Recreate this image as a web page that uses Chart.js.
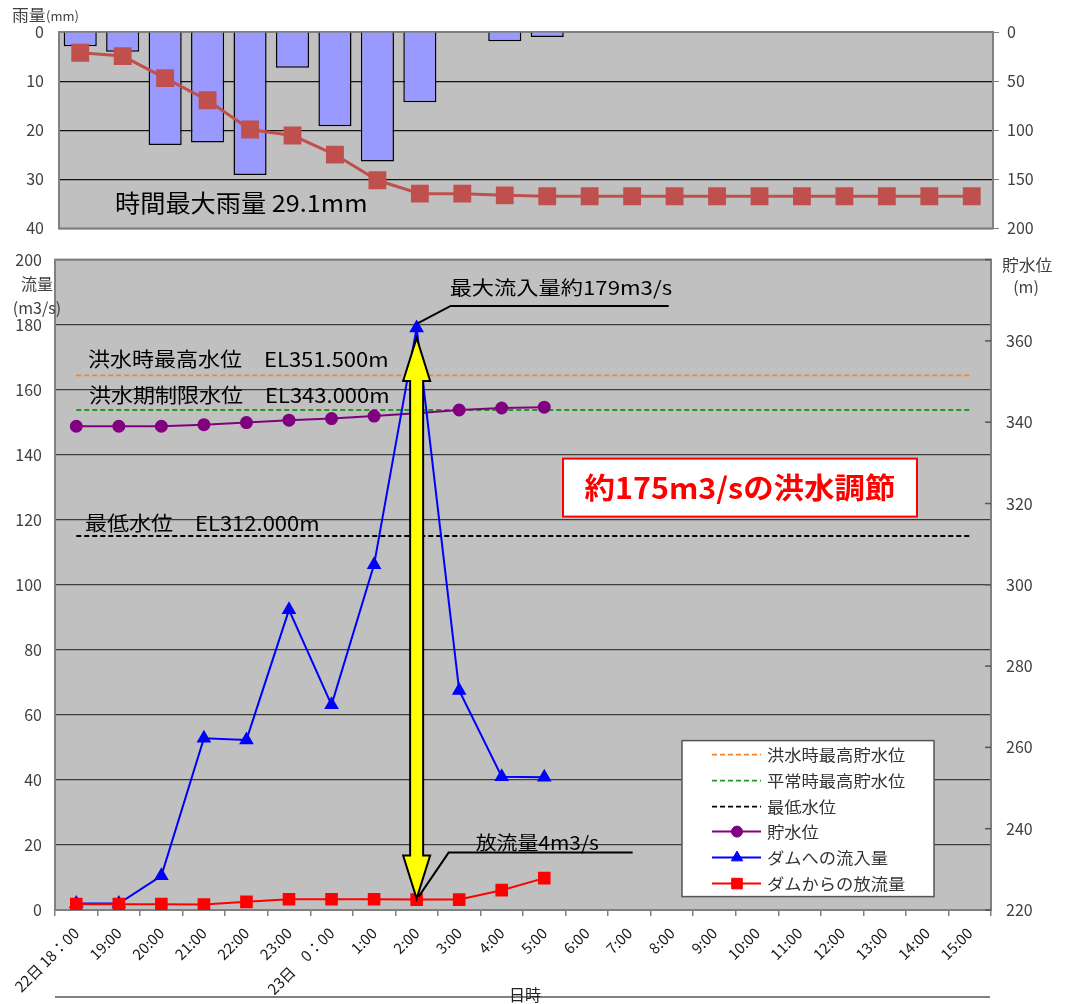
<!DOCTYPE html>
<html>
<head>
<meta charset="utf-8">
<script src="https://cdn.jsdelivr.net/npm/chart.js@4.4.1/dist/chart.umd.min.js"></script>
<style>
  body { margin: 0; background: #fff; }
  #rainBox { position: absolute; left: 0; top: 0; width: 1071px; height: 253px; }
  #flowBox { position: absolute; left: 0; top: 235px; width: 1071px; height: 769px; }
</style>
</head>
<body>
<div id="rainBox"><canvas id="rainChart"></canvas></div>
<div id="flowBox"><canvas id="flowChart"></canvas></div>
<script>
const FONT = '"Noto Sans CJK JP", "Noto Sans", sans-serif';
Chart.defaults.font.family = FONT;
Chart.defaults.animation = false;

// time axis (22 hourly categories)
const hours = ['22日 18：00', '19:00', '20:00', '21:00', '22:00', '23:00', '23日　0：00', '1:00', '2:00',
  '3:00', '4:00', '5:00', '6:00', '7:00', '8:00', '9:00', '10:00', '11:00', '12:00', '13:00', '14:00', '15:00'];

// rainfall (mm) – hourly bars and cumulative line
const hourlyRain = [2.9, 4.0, 23.0, 22.5, 29.1, 7.3, 19.2, 26.4, 14.3, 0, 1.9, 1.0, 0, 0, 0, 0, 0, 0, 0, 0, 0, 0];
const totalRain  = [21.1, 24.5, 47.0, 69.5, 99.3, 105.4, 124.8, 151.0, 164.6, 164.6, 166.3, 167.3,
  167.3, 167.3, 167.3, 167.3, 167.3, 167.3, 167.3, 167.3, 167.3, 167.3];

// flows (m3/s) and reservoir level (m)
const inflow  = [2.0, 2.0, 10.5, 52.8, 52.3, 92.3, 63.1, 106.2, 179.0, 67.5, 41.0, 40.8,
  null, null, null, null, null, null, null, null, null, null];
const outflow = [1.8, 1.8, 1.8, 1.7, 2.5, 3.3, 3.3, 3.3, 3.2, 3.2, 6.1, 9.8,
  null, null, null, null, null, null, null, null, null, null];
const reservoirLevel = [339.0, 339.0, 339.0, 339.4, 339.9, 340.5, 340.9, 341.5, 342.2, 343.0, 343.5, 343.7,
  null, null, null, null, null, null, null, null, null, null];

// reference water levels (m)
const floodMaxLevel = 351.5;
const normalMaxLevel = 343.0;
const lowestLevel = 312.0;

const legendOrder = ['洪水時最高貯水位', '平常時最高貯水位', '最低水位', '貯水位', 'ダムへの流入量', 'ダムからの放流量'];

const AXIS_TXT = '#404040';

// text drawn a little wider than the font, like the original
function wideText(ctx, text, x, y, sx, align) {
  ctx.save();
  ctx.translate(x, y);
  ctx.scale(sx, 1);
  ctx.textAlign = align || 'left';
  ctx.textBaseline = 'middle';
  ctx.fillText(text, 0, 0);
  ctx.restore();
}

function line(ctx, pts, color, width) {
  ctx.beginPath();
  ctx.moveTo(pts[0][0], pts[0][1]);
  for (let i = 1; i < pts.length; i++) ctx.lineTo(pts[i][0], pts[i][1]);
  ctx.strokeStyle = color;
  ctx.lineWidth = width;
  ctx.stroke();
}

function doubleArrow(ctx, x, y1, y2) {
  const sw = 6.5, hw = 13.5, hl = 43;
  ctx.save();
  ctx.beginPath();
  ctx.moveTo(x, y1);
  ctx.lineTo(x + hw, y1 + hl);
  ctx.lineTo(x + sw, y1 + hl);
  ctx.lineTo(x + sw, y2 - hl);
  ctx.lineTo(x + hw, y2 - hl);
  ctx.lineTo(x, y2);
  ctx.lineTo(x - hw, y2 - hl);
  ctx.lineTo(x - sw, y2 - hl);
  ctx.lineTo(x - sw, y1 + hl);
  ctx.lineTo(x - hw, y1 + hl);
  ctx.closePath();
  ctx.fillStyle = '#ffff00';
  ctx.fill();
  ctx.strokeStyle = '#000';
  ctx.lineWidth = 2;
  ctx.stroke();
  ctx.restore();
}

// gray plot background + frame
const plotFrame = {
  id: 'plotFrame',
  beforeDraw(chart) {
    const { ctx, chartArea: a } = chart;
    ctx.save();
    ctx.fillStyle = '#c0c0c0';
    ctx.fillRect(a.left, a.top, a.width, a.height);
    ctx.restore();
  },
  beforeDatasetsDraw(chart) {
    const { ctx, chartArea: a } = chart;
    ctx.save();
    ctx.strokeStyle = '#808080';
    ctx.lineWidth = 2;
    ctx.strokeRect(a.left, a.top, a.width, a.height);
    ctx.restore();
  }
};

// ---------- top: rainfall ----------
const rainDecor = {
  id: 'rainDecor',
  afterDraw(chart) {
    const { ctx, chartArea: a } = chart;
    ctx.save();
    ctx.fillStyle = AXIS_TXT;
    ctx.font = '16px ' + FONT;
    wideText(ctx, '雨量', 12, 15, 1.05);
    ctx.font = '13px ' + FONT;
    wideText(ctx, '(mm)', 46, 16, 1.0);
    ctx.fillStyle = '#000';
    ctx.font = '24px ' + FONT;
    wideText(ctx, '時間最大雨量 29.1mm', a.left + 56, chart.scales.y.getPixelForValue(34.7), 1.05);
    ctx.restore();
  }
};

new Chart(document.getElementById('rainChart'), {
  type: 'bar',
  data: {
    labels: hours,
    datasets: [{
      type: 'line',
      label: '累計雨量',
      data: totalRain,
      yAxisID: 'y2',
      borderColor: '#c0504d',
      borderWidth: 3,
      pointStyle: 'rect',
      pointRadius: 10.5,
      pointBackgroundColor: '#c0504d',
      pointBorderColor: '#c0504d',
      tension: 0
    }, {
      type: 'bar',
      label: '時間雨量',
      data: hourlyRain,
      yAxisID: 'y',
      backgroundColor: '#9999ff',
      borderColor: '#000',
      borderWidth: 1.5,
      barPercentage: 0.78,
      categoryPercentage: 1
    }]
  },
  options: {
    responsive: true,
    maintainAspectRatio: false,
    layout: { padding: { top: 32, bottom: 12, left: 0, right: 0 } },
    plugins: { legend: { display: false }, tooltip: { enabled: false } },
    scales: {
      x: { display: false, offset: true },
      y: {
        position: 'left',
        reverse: true,
        min: 0,
        max: 40,
        ticks: { stepSize: 10, color: AXIS_TXT, font: { size: 16 }, padding: 15 },
        grid: { color: '#111', lineWidth: 1.2, drawTicks: false },
        border: { display: false },
        afterFit(s) { s.width = 59; }
      },
      y2: {
        position: 'right',
        reverse: true,
        min: 0,
        max: 200,
        ticks: { stepSize: 50, color: AXIS_TXT, font: { size: 16 }, padding: 8 },
        grid: { drawOnChartArea: false, drawTicks: true, tickLength: 6, color: '#808080' },
        border: { display: false },
        afterFit(s) { s.width = 78; }
      }
    }
  },
  plugins: [plotFrame, rainDecor]
});

// ---------- bottom: flows and reservoir level ----------
const flowDecor = {
  id: 'flowDecor',
  beforeDatasetsDraw(chart) {
    // inner tick marks on the right axis
    const { ctx, chartArea: a } = chart;
    const yr = chart.scales.y2;
    ctx.save();
    yr.ticks.forEach(t => {
      const y = yr.getPixelForValue(t.value);
      line(ctx, [[a.right - 6, y], [a.right, y]], '#555', 1.5);
    });
    ctx.restore();
  },
  afterDatasetsDraw(chart) {
    const { ctx, chartArea: a } = chart;
    const xs = chart.scales.x, yl = chart.scales.y, yr = chart.scales.y2;
    ctx.save();

    // reference level captions
    ctx.fillStyle = '#000';
    ctx.font = '20px ' + FONT;
    wideText(ctx, '洪水時最高水位　EL351.500m', a.left + 33, yr.getPixelForValue(floodMaxLevel) - 16, 1.1);
    wideText(ctx, '洪水期制限水位　EL343.000m', a.left + 34, yr.getPixelForValue(normalMaxLevel) - 15, 1.1);
    wideText(ctx, '最低水位　EL312.000m', a.left + 30, yr.getPixelForValue(lowestLevel) - 13, 1.1);

    // yellow double arrow between peak inflow and outflow at 2:00
    const peak = inflow.indexOf(Math.max(...inflow.filter(v => v !== null)));
    const px = xs.getPixelForValue(peak);
    const yTop = yl.getPixelForValue(inflow[peak]);
    const yBot = yl.getPixelForValue(outflow[peak]);
    doubleArrow(ctx, px, yTop + 10, yBot - 1);

    // callout: peak inflow
    ctx.fillStyle = '#000';
    const uy1 = yTop - 22;
    line(ctx, [[px, yTop - 4], [px + 34, uy1], [px + 252, uy1]], '#000', 2);
    ctx.font = '19px ' + FONT;
    wideText(ctx, '最大流入量約179m3/s', px + 33, uy1 - 18, 1.17);

    // callout: outflow
    const uy2 = yBot - 47;
    line(ctx, [[px + 2, yBot - 3], [px + 32, uy2], [px + 216, uy2]], '#000', 2);
    wideText(ctx, '放流量4m3/s', px + 59, uy2 - 10, 1.1);

    // red box
    const bx = a.left + 508, by = a.top + 199, bw = 354, bh = 58;
    ctx.fillStyle = '#fff';
    ctx.fillRect(bx, by, bw, bh);
    ctx.strokeStyle = '#ff0000';
    ctx.lineWidth = 2;
    ctx.strokeRect(bx, by, bw, bh);
    ctx.fillStyle = '#ff0000';
    ctx.font = 'bold 29px ' + FONT;
    wideText(ctx, '約175m3/sの洪水調節', bx + bw / 2, by + bh / 2, 1.05, 'center');

    // legend
    const lx = a.left + 627, ly = a.top + 481, lw = 252, lh = 156;
    ctx.fillStyle = '#fff';
    ctx.fillRect(lx, ly, lw, lh);
    ctx.strokeStyle = '#555';
    ctx.lineWidth = 1.5;
    ctx.strokeRect(lx, ly, lw, lh);
    const rows = [14, 40, 66, 91, 117, 143];
    legendOrder.forEach((name, i) => {
      const ds = chart.data.datasets.find(d => d.label === name);
      const y = ly + rows[i];
      ctx.save();
      ctx.setLineDash(ds.borderDash || []);
      line(ctx, [[lx + 30, y], [lx + 79, y]], ds.borderColor, ds.borderDash ? 1.6 : 2);
      ctx.restore();
      if (ds.pointRadius > 0) {
        ctx.fillStyle = ds.borderColor;
        ctx.strokeStyle = ds.borderColor;
        ctx.lineWidth = 1;
        Chart.helpers.drawPoint(ctx, { pointStyle: ds.pointStyle, radius: ds.pointRadius, rotation: 0, borderWidth: 1 }, lx + 55, y);
      }
      ctx.fillStyle = '#333';
      ctx.font = '16px ' + FONT;
      wideText(ctx, name, lx + 85, y, 1.08);
    });
    ctx.restore();
  },
  afterDraw(chart) {
    const { ctx, chartArea: a } = chart;
    ctx.save();
    ctx.fillStyle = AXIS_TXT;
    ctx.font = '16px ' + FONT;
    wideText(ctx, '流量', 53, 49, 1.0, 'right');
    wideText(ctx, '(m3/s)', 37, 73, 1.0, 'center');
    wideText(ctx, '貯水位', a.right + 11, 30, 1.05);
    wideText(ctx, '(m)', a.right + 35, 52, 1.0, 'center');
    // axis title with the long base line
    line(ctx, [[a.left, 762], [a.right - 1, 762]], '#808080', 2);
    ctx.fillStyle = '#222';
    wideText(ctx, '日時', 525, 760, 1.0, 'center');
    ctx.restore();
  }
};

const levelLine = v => hours.map(() => v);

new Chart(document.getElementById('flowChart'), {
  type: 'line',
  data: {
    labels: hours,
    datasets: [{
      label: 'ダムからの放流量',
      data: outflow,
      yAxisID: 'y',
      borderColor: '#ff0000',
      borderWidth: 2,
      pointStyle: 'rect',
      pointRadius: 7.5,
      pointBackgroundColor: '#ff0000',
      pointBorderColor: '#ff0000'
    }, {
      label: 'ダムへの流入量',
      data: inflow,
      yAxisID: 'y',
      borderColor: '#0000ff',
      borderWidth: 2,
      pointStyle: 'triangle',
      pointRadius: 6.5,
      pointBackgroundColor: '#0000ff',
      pointBorderColor: '#0000ff'
    }, {
      label: '貯水位',
      data: reservoirLevel,
      yAxisID: 'y2',
      borderColor: '#800080',
      borderWidth: 2,
      pointStyle: 'circle',
      pointRadius: 5.5,
      pointBackgroundColor: '#800080',
      pointBorderColor: '#800080'
    }, {
      label: '最低水位',
      data: levelLine(lowestLevel),
      yAxisID: 'y2',
      borderColor: '#000000',
      borderWidth: 1.8,
      borderDash: [5, 3],
      pointRadius: 0
    }, {
      label: '平常時最高貯水位',
      data: levelLine(normalMaxLevel),
      yAxisID: 'y2',
      borderColor: '#229922',
      borderWidth: 1.8,
      borderDash: [5, 3],
      pointRadius: 0
    }, {
      label: '洪水時最高貯水位',
      data: levelLine(floodMaxLevel),
      yAxisID: 'y2',
      borderColor: '#f5822d',
      borderWidth: 1.8,
      borderDash: [5, 3],
      pointRadius: 0
    }]
  },
  options: {
    responsive: true,
    maintainAspectRatio: false,
    layout: { padding: { top: 14, bottom: 0, left: 0, right: 0 } },
    elements: { line: { tension: 0 } },
    plugins: { legend: { display: false }, tooltip: { enabled: false } },
    scales: {
      x: {
        offset: true,
        ticks: { autoSkip: false, minRotation: 45, maxRotation: 45, color: '#1a1a1a', font: { size: 15 }, padding: 8 },
        grid: { drawOnChartArea: false, drawTicks: true, tickLength: 6, color: '#808080', lineWidth: 1.5, offset: true },
        border: { display: false },
        afterFit(s) { s.height = 94; }
      },
      y: {
        position: 'left',
        min: 0,
        max: 200,
        ticks: { stepSize: 20, color: AXIS_TXT, font: { size: 16 }, padding: 13 },
        grid: { color: '#3c3c3c', lineWidth: 1.3, drawTicks: false },
        border: { display: false },
        afterFit(s) { s.width = 55; }
      },
      y2: {
        position: 'right',
        min: 220,
        max: 380,
        ticks: { stepSize: 20, color: AXIS_TXT, font: { size: 16 }, padding: 15,
          callback: v => (v >= 380 ? '' : v) },
        grid: { drawOnChartArea: false, drawTicks: false },
        border: { display: false },
        afterFit(s) { s.width = 80; }
      }
    }
  },
  plugins: [plotFrame, flowDecor]
});
</script>
</body>
</html>
